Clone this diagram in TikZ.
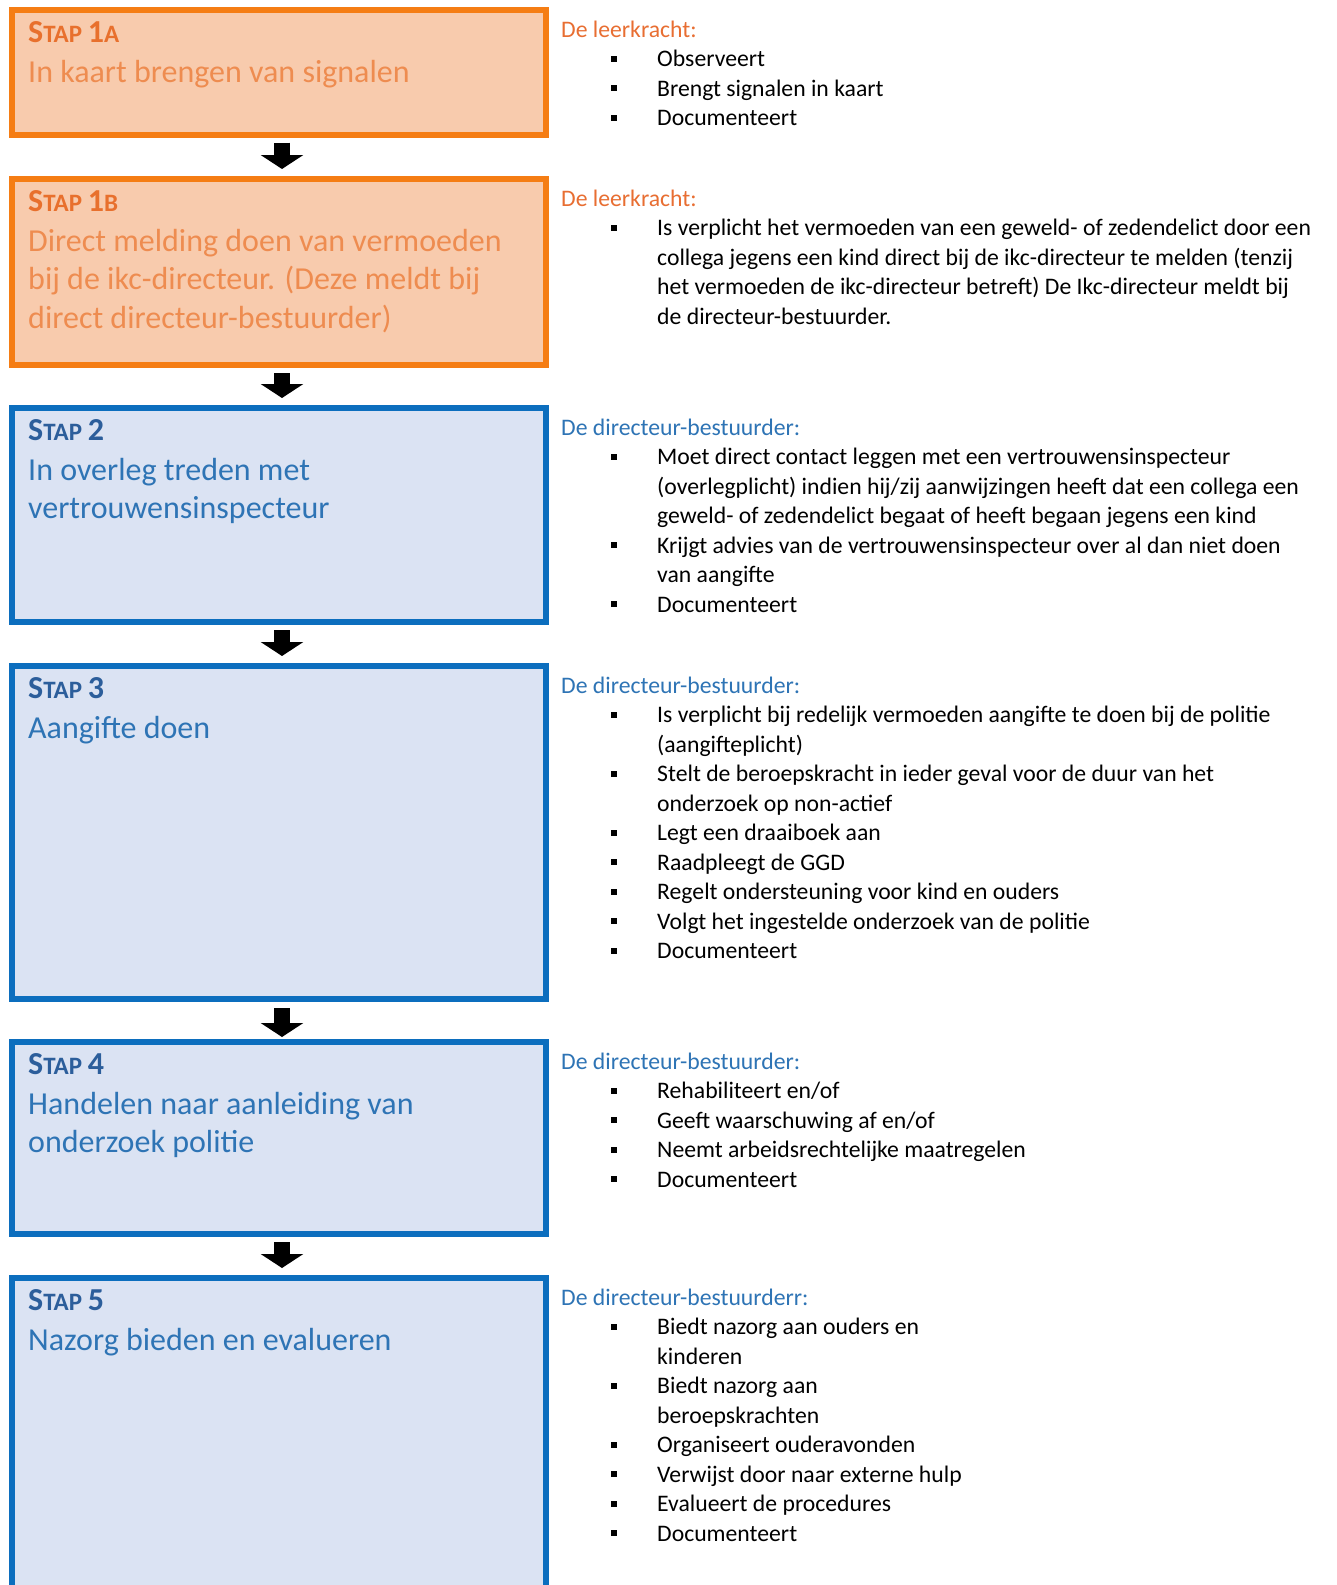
\documentclass[tikz,border=0pt]{standalone}
\usepackage{fontspec}
\setmainfont{Carlito}
\usetikzlibrary{positioning,arrows.meta}

\definecolor{orangeline}{RGB}{245,125,20}
\definecolor{orangefill}{RGB}{248,203,173}
\definecolor{orangetext}{RGB}{238,140,80}
\definecolor{orangelabel}{RGB}{232,112,45}
\definecolor{orangehead}{RGB}{232,110,50}
\definecolor{blueline}{RGB}{12,110,190}
\definecolor{bluefill}{RGB}{219,227,243}
\definecolor{bluetext}{RGB}{46,116,181}
\definecolor{bluelabel}{RGB}{44,94,155}
\definecolor{bluehead}{RGB}{46,116,181}

\newcommand{\stap}[2]{{\bfseries S\fontsize{25}{38.5}\selectfont TAP
  \fontsize{32}{38.5}\selectfont #1\fontsize{25}{38.5}\selectfont #2}}
\newcommand{\bl}{\hspace*{50pt}\rule[5pt]{6pt}{6pt}\hspace*{40pt}}
\newcommand{\nl}{\hspace*{96pt}}

\begin{document}
\begin{tikzpicture}[x=1pt,y=-1pt,
  stepbox/.style={draw,line width=6pt,minimum width=534pt,inner sep=0pt},
  orangebox/.style={stepbox,draw=orangeline,fill=orangefill},
  bluebox/.style={stepbox,draw=blueline,fill=bluefill},
  steptext/.style={anchor=north west,inner sep=0pt,align=left,font=\fontsize{32}{38.5}\selectfont},
  info/.style={anchor=north west,inner sep=0pt,align=left,font=\fontsize{23.7}{29.5}\selectfont},
  flow/.style={line width=16pt,-{Triangle[width=42pt,length=14pt]},shorten <=5pt,shorten >=7pt}]
  \useasboundingbox (0,0) rectangle (1337,1585);
  \fill[white] (0,0) rectangle (1337,1585);
  \clip (0,0) rectangle (1337,1585);

  % the steps
  \node[orangebox,minimum height=124.5pt,anchor=north west] (s1a) at (9,7) {};
  \node[orangebox,minimum height=186pt,below=38.5pt of s1a] (s1b) {};
  \node[bluebox,minimum height=214pt,below=37pt of s1b] (s2) {};
  \node[bluebox,minimum height=333pt,below=38pt of s2] (s3) {};
  \node[bluebox,minimum height=192pt,below=37pt of s3] (s4) {};
  \node[bluebox,minimum height=400pt,below=38pt of s4] (s5) {};

  \node[steptext,text=orangetext] (t1a) at ([shift={(19,7)}]s1a.north west)
    {\rule{0pt}{28pt}{\color{orangelabel}\stap{1}{A}}\\[1.5pt]
     In kaart brengen van signalen};
  \node[steptext,text=orangetext] (t1b) at ([shift={(19,7)}]s1b.north west)
    {\rule{0pt}{28pt}{\color{orangelabel}\stap{1}{B}}\\[1.5pt]
     Direct melding doen van vermoeden\\
     bij de ikc-directeur. (Deze meldt bij\\
     direct directeur-bestuurder)};
  \node[steptext,text=bluetext] (t2) at ([shift={(19,7)}]s2.north west)
    {\rule{0pt}{28pt}{\color{bluelabel}\stap{2}{}}\\[1.5pt]
     In overleg treden met\\
     vertrouwensinspecteur};
  \node[steptext,text=bluetext] (t3) at ([shift={(19,7)}]s3.north west)
    {\rule{0pt}{28pt}{\color{bluelabel}\stap{3}{}}\\[1.5pt]
     Aangifte doen};
  \node[steptext,text=bluetext] (t4) at ([shift={(19,7)}]s4.north west)
    {\rule{0pt}{28pt}{\color{bluelabel}\stap{4}{}}\\[1.5pt]
     Handelen naar aanleiding van\\
     onderzoek politie};
  \node[steptext,text=bluetext] (t5) at ([shift={(19,7)}]s5.north west)
    {\rule{0pt}{28pt}{\color{bluelabel}\stap{5}{}}\\[1.5pt]
     Nazorg bieden en evalueren};

  % arrows
  \draw[flow] ([xshift=3pt]s1a.south) -- ([xshift=3pt]s1b.north);
  \draw[flow] ([xshift=3pt]s1b.south) -- ([xshift=3pt]s2.north);
  \draw[flow] ([xshift=3pt]s2.south) -- ([xshift=3pt]s3.north);
  \draw[flow,shorten <=6pt,shorten >=2pt] ([xshift=3pt]s3.south) -- ([xshift=3pt]s4.north);
  \draw[flow] ([xshift=3pt]s4.south) -- ([xshift=3pt]s5.north);

  % what happens per step
  \node[info] (i1a) at ([shift={(12,8)}]s1a.north east)
    {\rule{0pt}{22pt}{\color{orangehead}De leerkracht:}\\
     \bl Observeert\\
     \bl Brengt signalen in kaart\\
     \bl Documenteert};
  \node[info] (i1b) at ([shift={(12,8)}]s1b.north east)
    {\rule{0pt}{22pt}{\color{orangehead}De leerkracht:}\\
     \bl Is verplicht het vermoeden van een geweld- of zedendelict door een\\
     \nl collega jegens een kind direct bij de ikc-directeur te melden (tenzij\\
     \nl het vermoeden de ikc-directeur betreft) De Ikc-directeur meldt bij\\
     \nl de directeur-bestuurder.};
  \node[info] (i2) at ([shift={(12,8)}]s2.north east)
    {\rule{0pt}{22pt}{\color{bluehead}De directeur-bestuurder:}\\
     \bl Moet direct contact leggen met een vertrouwensinspecteur\\
     \nl (overlegplicht) indien hij/zij aanwijzingen heeft dat een collega een\\
     \nl geweld- of zedendelict begaat of heeft begaan jegens een kind\\
     \bl Krijgt advies van de vertrouwensinspecteur over al dan niet doen\\
     \nl van aangifte\\
     \bl Documenteert};
  \node[info] (i3) at ([shift={(12,8)}]s3.north east)
    {\rule{0pt}{22pt}{\color{bluehead}De directeur-bestuurder:}\\
     \bl Is verplicht bij redelijk vermoeden aangifte te doen bij de politie\\
     \nl (aangifteplicht)\\
     \bl Stelt de beroepskracht in ieder geval voor de duur van het\\
     \nl onderzoek op non-actief\\
     \bl Legt een draaiboek aan\\
     \bl Raadpleegt de GGD\\
     \bl Regelt ondersteuning voor kind en ouders\\
     \bl Volgt het ingestelde onderzoek van de politie\\
     \bl Documenteert};
  \node[info] (i4) at ([shift={(12,8)}]s4.north east)
    {\rule{0pt}{22pt}{\color{bluehead}De directeur-bestuurder:}\\
     \bl Rehabiliteert en/of\\
     \bl Geeft waarschuwing af en/of\\
     \bl Neemt arbeidsrechtelijke maatregelen\\
     \bl Documenteert};
  \node[info] (i5) at ([shift={(12,8)}]s5.north east)
    {\rule{0pt}{22pt}{\color{bluehead}De directeur-bestuurderr:}\\
     \bl Biedt nazorg aan ouders en\\
     \nl kinderen\\
     \bl Biedt nazorg aan\\
     \nl beroepskrachten\\
     \bl Organiseert ouderavonden\\
     \bl Verwijst door naar externe hulp\\
     \bl Evalueert de procedures\\
     \bl Documenteert};
\end{tikzpicture}
\end{document}
